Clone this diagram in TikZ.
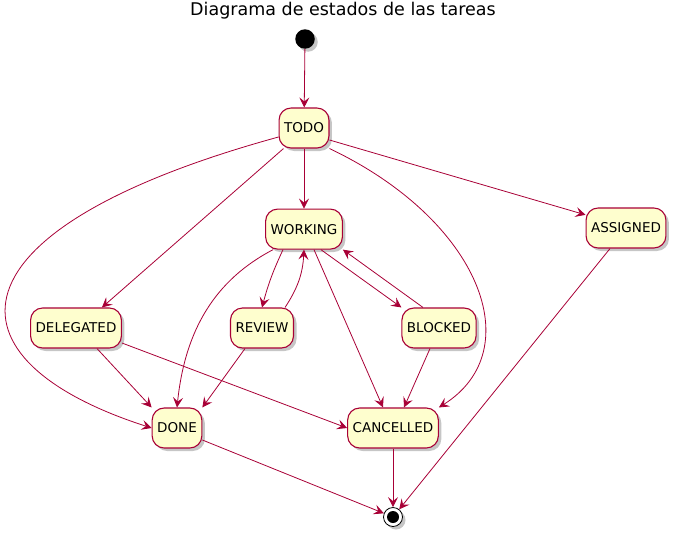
\documentclass[tikz,border=0pt]{standalone}
\usepackage{fontspec}
\setmainfont{DejaVu Sans}
\usetikzlibrary{shapes,arrows.meta,positioning,shadows}
\definecolor{umlred}{HTML}{A80036}
\definecolor{umlfill}{HTML}{FEFECE}
\tikzstyle{state} = [rectangle, rounded corners=12pt, minimum height=40pt, inner xsep=5pt, draw=umlred, line width=1.1pt, fill=umlfill, font=\fontsize{13.5}{16}\selectfont, drop shadow={shadow xshift=3pt, shadow yshift=-3pt, opacity=0.45}]
\tikzstyle{arrow} = [draw=umlred, line width=0.8pt, -{Stealth[length=10pt,width=10pt,inset=4pt]}]

\begin{document}
\begin{tikzpicture}[x=1pt,y=-1pt]
	\useasboundingbox (0,0) rectangle (676,538);
	\node (title) at (343,11) {\fontsize{17.5}{20}\selectfont Diagrama de estados de las tareas};
	
	\node[circle, fill=black, minimum size=19.5pt, inner sep=0pt, drop shadow={shadow xshift=3pt, shadow yshift=-3pt, opacity=0.45}] (start) at (305,39) {};
	\node[state] (todo) at (304,128) {TODO};
	\node[state, below=60pt of todo] (working) {WORKING};
	\node[state] (assigned) at (626,228) {ASSIGNED};
	\node[state] (delegated) at (76,328) {DELEGATED};
	\node[state] (review) at (262,328) {REVIEW};
	\node[state] (blocked) at (439,328) {BLOCKED};
	\node[state] (done) at (177,428) {DONE};
	\node[state] (cancelled) at (393,428) {CANCELLED};
	\node[circle, draw=black, line width=0.8pt, fill=white, minimum size=19pt, inner sep=0pt, drop shadow={shadow xshift=3pt, shadow yshift=-3pt, opacity=0.45}] (end) at (393,517) {};
	\fill (end.center) circle (6pt);
	
	% connector end points on the borders
	\coordinate (ta) at ([yshift=-12pt]todo.east);
	\coordinate (td) at ([xshift=5pt]todo.south west);
	\coordinate (tl) at ([yshift=-9pt]todo.west);
	\coordinate (dt) at ([xshift=-20pt]delegated.north east);
	\coordinate (wr) at ([xshift=-21pt]working.south);
	\coordinate (rw) at ([xshift=-9pt]review.north east);
	\coordinate (wb) at ([xshift=-22pt]working.south east);
	\coordinate (bw) at ([xshift=-16pt]blocked.north);
	\coordinate (wd) at ([xshift=8pt]working.south west);
	\coordinate (wc) at ([xshift=10pt]working.south);
	\coordinate (cw) at ([xshift=-10pt]cancelled.north);
	\coordinate (dd) at ([xshift=21pt]delegated.south);
	\coordinate (dc) at ([yshift=-15pt]delegated.east);
	\coordinate (rd) at ([xshift=-17pt]review.south);
	\coordinate (bc) at ([xshift=-9pt]blocked.south);
	\coordinate (cb) at ([xshift=11pt]cancelled.north);
	\coordinate (de) at ([yshift=-12pt]done.east);
	\coordinate (ae) at ([xshift=-16pt]assigned.south);
	
	\draw[arrow] (start) -- (todo);
	\draw[arrow] (todo) -- (working);
	\draw[arrow] (ta) -- (assigned.162);
	\draw[arrow] (td) -- (dt);
	\draw[arrow] (tl) .. controls (-60,230) and (-60,360) .. (done.west);
	\draw[arrow] (todo.south east) .. controls (480,220) and (530,350) .. (cancelled.north east);
	\draw[arrow] (wr) to[bend right=5] (review.north);
	\draw[arrow] (rw) to[bend right=15] (working.south);
	\draw[arrow] (wb) -- (blocked.north west);
	\draw[arrow] (bw) -- (working.south east);
	\draw[arrow] (wd) .. controls (215,280) and (185,330) .. (done.north);
	\draw[arrow] (wc) -- (cw);
	\draw[arrow] (dd) -- (done.north west);
	\draw[arrow] (dc) -- (cancelled.west);
	\draw[arrow] (rd) -- (done.north east);
	\draw[arrow] (bc) -- (cb);
	\draw[arrow] (de) -- (end);
	\draw[arrow] (cancelled) -- (end);
	\draw[arrow] (ae) -- (end);
\end{tikzpicture}
\end{document}
